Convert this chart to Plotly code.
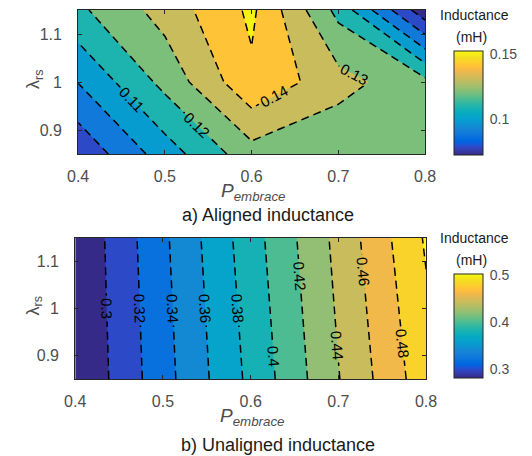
import plotly.graph_objects as go

# ---------------- data ----------------
p_embrace = [0.4, 0.5, 0.6, 0.7, 0.8]
lambda_rs = [0.85, 1.0, 1.15]

# a) aligned inductance (mH), rows = lambda_rs, cols = p_embrace
aligned_mH = [
    [0.082, 0.105, 0.126, 0.1215, 0.125],
    [0.1003, 0.123, 0.148, 0.1338, 0.123],
    [0.118, 0.134, 0.152, 0.117, 0.073],
]
# b) unaligned inductance (mH)
unaligned_mH = [
    [0.280, 0.3323, 0.3848, 0.4391, 0.492],
    [0.281, 0.334, 0.388, 0.4425, 0.497],
    [0.2818, 0.336, 0.3913, 0.4458, 0.5024],
]
aligned_levels = [0.08, 0.15, 0.01]      # start, end, step
unaligned_levels = [0.3, 0.5, 0.02]

x_ticks = [0.4, 0.5, 0.6, 0.7, 0.8]
x_tick_text = ["0.4", "0.5", "0.6", "0.7", "0.8"]
y_ticks = [0.9, 1.0, 1.1]
y_tick_text = ["0.9", "1", "1.1"]
aligned_cbar_ticks = [0.1, 0.15]
aligned_cbar_text = ["0.1", "0.15"]
unaligned_cbar_ticks = [0.3, 0.4, 0.5]
unaligned_cbar_text = ["0.3", "0.4", "0.5"]
captions = ["a) Aligned inductance", "b) Unaligned inductance"]

# ---------------- parula colormap ----------------
PARULA = [
    [0.2081, 0.1663, 0.5292], [0.2116, 0.1898, 0.5777], [0.2123, 0.2138, 0.6270], [0.2081, 0.2386, 0.6771],
    [0.1959, 0.2645, 0.7279], [0.1707, 0.2919, 0.7792], [0.1253, 0.3242, 0.8303], [0.0591, 0.3598, 0.8683],
    [0.0117, 0.3875, 0.8820], [0.0060, 0.4086, 0.8828], [0.0165, 0.4266, 0.8786], [0.0329, 0.4430, 0.8720],
    [0.0498, 0.4586, 0.8641], [0.0629, 0.4737, 0.8554], [0.0723, 0.4887, 0.8467], [0.0779, 0.5040, 0.8384],
    [0.0793, 0.5200, 0.8312], [0.0749, 0.5375, 0.8263], [0.0641, 0.5570, 0.8240], [0.0488, 0.5772, 0.8228],
    [0.0343, 0.5966, 0.8199], [0.0265, 0.6137, 0.8135], [0.0239, 0.6287, 0.8038], [0.0231, 0.6418, 0.7913],
    [0.0228, 0.6535, 0.7768], [0.0267, 0.6642, 0.7607], [0.0384, 0.6743, 0.7436], [0.0590, 0.6838, 0.7254],
    [0.0843, 0.6928, 0.7062], [0.1133, 0.7015, 0.6859], [0.1453, 0.7098, 0.6646], [0.1801, 0.7177, 0.6424],
    [0.2178, 0.7250, 0.6193], [0.2586, 0.7317, 0.5954], [0.3022, 0.7376, 0.5712], [0.3482, 0.7424, 0.5473],
    [0.3953, 0.7459, 0.5244], [0.4420, 0.7481, 0.5033], [0.4871, 0.7491, 0.4840], [0.5300, 0.7491, 0.4661],
    [0.5709, 0.7485, 0.4494], [0.6099, 0.7473, 0.4337], [0.6473, 0.7456, 0.4188], [0.6834, 0.7435, 0.4044],
    [0.7184, 0.7411, 0.3905], [0.7525, 0.7384, 0.3768], [0.7858, 0.7356, 0.3633], [0.8185, 0.7327, 0.3498],
    [0.8507, 0.7299, 0.3360], [0.8824, 0.7274, 0.3217], [0.9139, 0.7258, 0.3063], [0.9450, 0.7261, 0.2886],
    [0.9739, 0.7314, 0.2666], [0.9938, 0.7455, 0.2403], [0.9990, 0.7653, 0.2164], [0.9955, 0.7861, 0.1967],
    [0.9880, 0.8066, 0.1794], [0.9789, 0.8271, 0.1633], [0.9697, 0.8481, 0.1475], [0.9626, 0.8705, 0.1309],
    [0.9589, 0.8949, 0.1132], [0.9598, 0.9218, 0.0948], [0.9661, 0.9514, 0.0755], [0.9763, 0.9831, 0.0538],
]


def rgb(c):
    return "rgb(%d,%d,%d)" % tuple(round(v * 255) for v in c)


def parula(f):
    i = int(f * len(PARULA))
    i = max(0, min(len(PARULA) - 1, i))
    return rgb(PARULA[i])


PARULA_SCALE = [[i / (len(PARULA) - 1), rgb(c)] for i, c in enumerate(PARULA)]


def fill_scale(z, levels):
    """Band colours as MATLAB contourf: band above level L gets parula(L)."""
    flat = [v for row in z for v in row]
    zmin, zmax = min(flat), max(flat)
    start, end, step = levels
    n = int(round((end - start) / step)) + 1
    lev = [start + k * step for k in range(n)]
    cols = [parula(0.0)] + [parula((L - zmin) / (zmax - zmin)) for L in lev]
    return [[j / n, cols[j]] for j in range(n + 1)], zmin, zmax


W, H = 532, 456
FONT = "Liberation Sans, Arial, sans-serif"
AX = "#262626"
TXT = "#4d4d4d"


def px(xp):
    return xp / W


def py(yp):
    return 1 - yp / H


fig = go.Figure()

panels = [
    dict(z=aligned_mH, lev=aligned_levels, xa="x", ya="y", ct=aligned_cbar_ticks, ctt=aligned_cbar_text,
         cb_top=51, box=(70, 432, 10, 154)),
    dict(z=unaligned_mH, lev=unaligned_levels, xa="x2", ya="y2", ct=unaligned_cbar_ticks, ctt=unaligned_cbar_text,
         cb_top=274, box=(67, 433, 238, 379)),
]

for p in panels:
    scale, zmin, zmax = fill_scale(p["z"], p["lev"])
    fig.add_trace(go.Contour(
        x=p_embrace, y=lambda_rs, z=p["z"], xaxis=p["xa"], yaxis=p["ya"],
        contours=dict(start=p["lev"][0], end=p["lev"][1], size=p["lev"][2], coloring="fill",
                      showlabels=True, labelformat=".2~f",
                      labelfont=dict(family=FONT, size=15, color="black")),
        colorscale=scale, showscale=False,
        line=dict(color="black", width=1.5, dash="8px,5px", smoothing=0),
        hoverinfo="skip",
    ))
    fig.add_trace(go.Scatter(
        x=[0.6], y=[1.0], xaxis=p["xa"], yaxis=p["ya"], mode="markers", hoverinfo="skip", showlegend=False,
        marker=dict(size=1, opacity=0, color=[zmin], colorscale=PARULA_SCALE, cmin=zmin, cmax=zmax,
                    showscale=True,
                    colorbar=dict(thickness=29, thicknessmode="pixels", len=104, lenmode="pixels",
                                  x=px(462), xanchor="left", xpad=0, y=py(p["cb_top"]), yanchor="top", ypad=0,
                                  outlinecolor=AX, outlinewidth=1, tickvals=p["ct"], ticktext=p["ctt"],
                                  ticks="outside", ticklen=4, tickcolor="rgba(0,0,0,0)",
                                  tickfont=dict(family=FONT, size=14, color=TXT))),
    ))

axis_common = dict(ticks="inside", ticklen=4, tickcolor=AX, showline=True, linecolor=AX, linewidth=1,
                   mirror="ticks", showgrid=False, zeroline=False,
                   tickfont=dict(family=FONT, size=16, color=TXT))

layout = dict(width=W, height=H, margin=dict(l=0, r=0, t=0, b=0), paper_bgcolor="white",
              plot_bgcolor="white", showlegend=False)
annotations = []
for k, p in enumerate(panels):
    x0, x1, y0, y1 = p["box"]
    sx = "" if k == 0 else "2"
    layout["xaxis" + sx] = dict(axis_common, domain=[px(x0), px(x1)], range=[0.4, 0.8], tickvals=x_ticks,
                                ticktext=x_tick_text, anchor="y" + sx, ticklabelstandoff=8)
    layout["yaxis" + sx] = dict(axis_common, domain=[py(y1), py(y0)], range=[0.85, 1.15], tickvals=y_ticks,
                                ticktext=y_tick_text, anchor="x" + sx, ticklabelstandoff=12)
    cx = (x0 + x1) / 2
    # y-axis title
    annotations.append(dict(text="λ<sub>rs</sub>", textangle=-90, x=px(24), y=py((y0 + y1) / 2 - 3),
                            xref="paper", yref="paper", showarrow=False, xanchor="center", yanchor="middle",
                            font=dict(family=FONT, size=18, color=TXT)))
    # x-axis title
    annotations.append(dict(text="<i>P<sub>embrace</sub></i>", x=px(cx + 1), y=py(y1 + 38),
                            xref="paper", yref="paper", showarrow=False, xanchor="center", yanchor="middle",
                            font=dict(family=FONT, size=19, color=TXT)))
    # caption
    annotations.append(dict(text=captions[k], x=px(268 if k == 0 else 278), y=py(y1 + 61 if k == 0 else y1 + 66),
                            xref="paper", yref="paper", showarrow=False, xanchor="center", yanchor="middle",
                            font=dict(family=FONT, size=18, color="#1a1a1a")))
    # colorbar title
    annotations.append(dict(text="Inductance", x=px(483), y=py(p["cb_top"] - 36),
                            xref="paper", yref="paper", showarrow=False, xanchor="center", yanchor="middle",
                            font=dict(family=FONT, size=14, color="#1a1a1a")))
    annotations.append(dict(text="(mH)", x=px(480), y=py(p["cb_top"] - 14),
                            xref="paper", yref="paper", showarrow=False, xanchor="center", yanchor="middle",
                            font=dict(family=FONT, size=14, color="#1a1a1a")))

layout["annotations"] = annotations
fig.update_layout(**layout)
fig.write_html("out.html")
